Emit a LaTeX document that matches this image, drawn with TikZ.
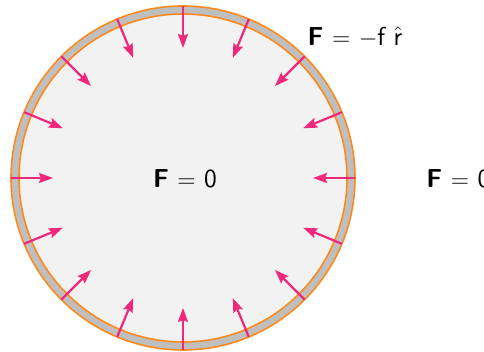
\documentclass[tikz,border=0pt]{standalone}
\usepackage{tikz}
\usetikzlibrary{arrows.meta, positioning, calc}
\usepackage{amsmath,amssymb}
\usepackage{xcolor}
\definecolor{ringgray}{HTML}{BFBFBF}
\definecolor{ringorange}{HTML}{FF8A1C}
\definecolor{innergray}{HTML}{F2F2F2}
\definecolor{forcepink}{HTML}{F0287A}

\begin{document}
\begin{tikzpicture}[
    x=0.5pt, y=0.5pt,
    ring/.style={fill=ringgray, even odd rule},
    edge/.style={draw=ringorange, line width=0.8pt},
    force/.style={draw=forcepink, line width=1.1pt, -{Stealth[length=7pt, width=5pt, inset=1pt]}},
    lbl/.style={font=\fontsize{13}{15}\selectfont\sffamily, inner sep=1pt}
  ]
  \useasboundingbox (0,0) rectangle (484,352);

  % Shell
  \coordinate (c) at (183,174);
  \fill[innergray] (c) circle (82pt);
  \path[ring] (c) circle (86pt) (c) circle (82pt);
  \draw[edge] (c) circle (86pt);
  \draw[edge] (c) circle (82pt);

  % Inward forces on the shell
  \foreach \a in {0,22.5,...,337.5}{
    \draw[force] ($(c)+(\a:86pt)$) -- ($(c)+(\a:65pt)$);
  }

  % Labels
  \node[lbl] (inside) at (185,173) {\textbf{F} $=$ 0};
  \node[lbl, anchor=west] (outside) at (424,173) {\textbf{F} $=$ 0};
  \node[lbl] (shell) at (355,315) {\textbf{F} $=$ $-$f $\hat{\text{r}}$};

\end{tikzpicture}
\end{document}
